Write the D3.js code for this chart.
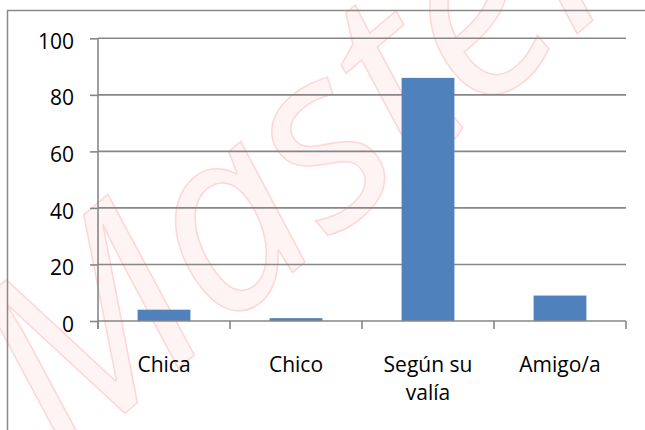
<!DOCTYPE html>
<html>
<head>
<meta charset="utf-8">
<script src="https://cdn.jsdelivr.net/npm/d3@7"></script>
<style>
  html, body { margin: 0; padding: 0; background: #fff; }
  svg { display: block; }
  text { font-family: "Open Sans", sans-serif; }
</style>
</head>
<body>
<div id="chart"></div>
<script>
const categories = ["Chica", "Chico", "Según su valía", "Amigo/a"];
const categoryLines = [["Chica"], ["Chico"], ["Según su", "valía"], ["Amigo/a"]];
const values = [4, 1, 86, 9];
const yTicks = [0, 20, 40, 60, 80, 100];
const watermark = "Master";

const W = 645, H = 430;
const svg = d3.select("#chart").append("svg").attr("width", W).attr("height", H);
svg.append("rect").attr("width", W).attr("height", H).attr("fill", "#fff");

// watermark
svg.append("text")
  .attr("transform", "translate(62,466) rotate(-40)")
  .attr("font-family", "Liberation Serif")
  .attr("font-style", "italic")
  .attr("font-size", 250)
  .attr("fill", "#fff4f4")
  .attr("stroke", "#ffd6d6")
  .attr("stroke-width", 1.5)
  .text(watermark);

// chart border
svg.append("path").attr("d", "M7.5,430V10.5H645")
  .attr("fill", "none").attr("stroke", "#8a8a8a").attr("stroke-width", 1.5);

const x = d3.scaleBand().domain(categories).range([98, 626]).paddingInner(0.6).paddingOuter(0.3);
const y = d3.scaleLinear().domain([0, 100]).range([321, 38.3]);

const gridColor = "#878787";

// gridlines
svg.append("g").selectAll("line").data(yTicks.filter(d => d > 0)).join("line")
  .attr("x1", 98).attr("x2", 626)
  .attr("y1", d => y(d)).attr("y2", d => y(d))
  .attr("stroke", gridColor).attr("stroke-width", 1.6);

// bars
svg.append("g").selectAll("rect").data(values).join("rect")
  .attr("x", (d, i) => x(categories[i]))
  .attr("width", x.bandwidth())
  .attr("y", d => y(d))
  .attr("height", d => y(0) - y(d))
  .attr("fill", "#4f81bd");

// y axis
const yAxis = svg.append("g").attr("transform", "translate(98,0)")
  .call(d3.axisLeft(y).tickValues(yTicks).tickSize(8).tickFormat(d3.format("d")));
yAxis.select(".domain").attr("stroke", gridColor).attr("stroke-width", 1.6).attr("d", `M0,${y(100)}V329`);
yAxis.selectAll(".tick line").attr("stroke", gridColor).attr("stroke-width", 1.6);
yAxis.selectAll(".tick text").attr("font-size", 21).attr("fill", "#000")
  .attr("font-family", "Open Sans").attr("dy", "0.48em").attr("x", -24);

// x axis
const xAxisG = svg.append("g");
xAxisG.append("line").attr("x1", 98).attr("x2", 626).attr("y1", y(0)).attr("y2", y(0))
  .attr("stroke", gridColor).attr("stroke-width", 1.6);
const boundaries = categories.map(c => x(c) - x.step() * x.paddingOuter()).concat([626]);
xAxisG.selectAll("line.t").data(boundaries).join("line").attr("class", "t")
  .attr("x1", d => d).attr("x2", d => d).attr("y1", y(0)).attr("y2", y(0) + 8)
  .attr("stroke", gridColor).attr("stroke-width", 1.6);

// category labels
const lab = svg.append("g").selectAll("text").data(categoryLines).join("text")
  .attr("x", (d, i) => x(categories[i]) + x.bandwidth() / 2)
  .attr("y", 371.7)
  .attr("text-anchor", "middle")
  .attr("font-size", 21)
  .attr("fill", "#000");
lab.selectAll("tspan").data(d => d).join("tspan")
  .attr("x", function () { return d3.select(this.parentNode).attr("x"); })
  .attr("dy", (d, i) => i === 0 ? 0 : 28)
  .text(d => d);
</script>
</body>
</html>
